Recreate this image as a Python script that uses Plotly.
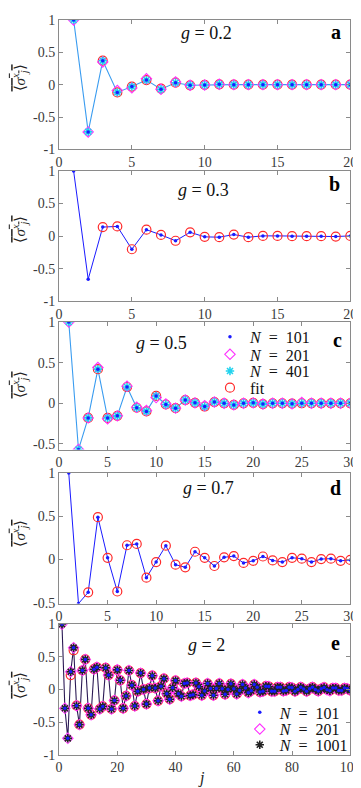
import plotly.graph_objects as go

# ---------------- data ----------------
j_a = list(range(1, 21))
a_n101 = [1.0, -0.73, 0.37, -0.12, -0.03, 0.07, -0.07, 0.03, -0.01, -0.005, 0.005, 0, 0, 0, 0, 0, 0, 0, 0, 0]
a_n201 = [1.0, -0.73, 0.35, -0.09, -0.05, 0.09, -0.07, 0.04, -0.01, -0.005, 0.005, 0, 0, 0, 0, 0, 0, 0, 0, 0]
a_n401 = [1.0, -0.73, 0.37, -0.12, -0.03, 0.07, -0.07, 0.03, -0.01, -0.005, 0.005, 0, 0, 0, 0, 0, 0, 0, 0, 0]
a_fit_j = list(range(3, 21))
a_fit = [0.37, -0.12, -0.03, 0.07, -0.06, 0.03, -0.01, -0.005, 0.005, 0, 0, 0, 0, 0, 0, 0, 0, 0]

j_b = list(range(1, 21))
b_n101 = [1.0, -0.66, 0.14, 0.15, -0.20, 0.10, 0.02, -0.07, 0.06, -0.01, -0.015, 0.025, -0.015,
          0.005, 0.005, 0, 0, 0, -0.005, 0.005]
b_fit_j = list(range(3, 21))
b_fit = [0.14, 0.15, -0.20, 0.10, 0.02, -0.07, 0.06, -0.01, -0.015, 0.025, -0.015,
         0.005, 0.005, 0, 0, 0, -0.005, 0.005]

j_c = list(range(1, 31))
c_n101 = [1.0, -0.57, -0.18, 0.42, -0.18, -0.155, 0.20, -0.055, -0.10, 0.09, -0.015, -0.06, 0.04,
          0.005, -0.04, 0.015, 0.0, -0.02, 0, 0.005, -0.01, 0, 0, -0.005, 0, 0, 0, 0, 0, 0]
c_n201 = [1.0, -0.57, -0.18, 0.44, -0.19, -0.155, 0.21, -0.05, -0.09, 0.07, -0.01, -0.06, 0.04,
          0.005, -0.03, 0.015, 0.0, -0.02, 0, 0.005, -0.01, 0, 0, -0.005, 0.01, 0, 0, 0, 0, 0]
c_n401 = c_n101
c_fit_j = list(range(3, 31))
c_fit = [-0.18, 0.42, -0.18, -0.155, 0.20, -0.055, -0.10, 0.09, -0.015, -0.06, 0.04,
         0.005, -0.04, 0.015, 0.0, -0.02, 0, 0.005, -0.01, 0, 0, -0.005, 0, 0, 0, 0, 0, 0]

j_d = list(range(1, 31))
d_n101 = [1.0, -0.51, -0.38, 0.49, 0.02, -0.37, 0.165, 0.18, -0.21, -0.03, 0.16, -0.06, -0.09, 0.09,
          0.02, -0.075, 0.025, 0.04, -0.04, -0.015, 0.035, -0.01, -0.03, 0.02, 0.01, -0.03, 0.005,
          0.01, -0.015, -0.005]
d_fit_j = list(range(3, 31))
d_fit = [-0.38, 0.49, 0.02, -0.37, 0.165, 0.18, -0.21, -0.03, 0.16, -0.06, -0.09, 0.09,
         0.02, -0.075, 0.025, 0.04, -0.04, -0.015, 0.035, -0.01, -0.03, 0.02, 0.01, -0.03, 0.005,
         0.01, -0.015, -0.005]

j_e = list(range(1, 101))
e_n1001 = [1.0, -0.29, -0.75, 0.27, 0.64, -0.25, -0.54, 0.29, 0.46, -0.29,
           -0.39, 0.31, 0.34, -0.30, -0.26, 0.33, 0.22, -0.30, -0.17, 0.30,
           0.14, -0.29, -0.10, 0.29, 0.065, -0.255, -0.03, 0.25, 0.0, -0.225,
           0.02, 0.21, 0.02, -0.175, 0.05, 0.165, -0.065, -0.15, 0.025, 0.135,
           -0.065, -0.105, 0.09, 0.10, -0.095, -0.08, 0.10, 0.04, -0.09, -0.025,
           0.09, 0.015, -0.09, 0.015, 0.09, 0.01, -0.075, 0.0, 0.085, 0.01,
           -0.07, -0.015, 0.075, 0.02, -0.05, -0.02, 0.075, 0.035, -0.04, -0.03,
           0.05, 0.045, -0.03, -0.03, 0.035, 0.035, -0.025, -0.015, 0.035, 0.025,
           -0.03, 0.0, 0.035, 0.005, -0.03, 0.01, 0.035, 0.0, -0.025, 0.01,
           0.03, -0.005, -0.02, 0.02, 0.02, -0.015, -0.015, 0.02, 0.01, -0.015]
e_n201 = e_n1001
e_n101 = e_n1001
e_fit_j = list(range(4, 101))
e_fit = [0.22, 0.60] + e_n1001[5:]

x_ticks_20 = [0, 5, 10, 15, 20]
x_ticks_30 = [0, 5, 10, 15, 20, 25, 30]
x_ticks_100 = [0, 20, 40, 60, 80, 100]
y_ticks_full = [-1, -0.5, 0, 0.5, 1]
y_ticks_half = [-0.5, 0, 0.5, 1]

g_labels = ["0.2", "0.3", "0.5", "0.7", "2"]
panel_letters = ["a", "b", "c", "d", "e"]

# ---------------- layout helpers ----------------
W, H = 361, 788
FONT = "Liberation Serif"
AX_COLOR = "#8a8a8a"
TICK_FONT = dict(family=FONT, size=14, color="#3a3a3a")


def px_x(x):
    return x / W


def px_y(y):
    return 1 - y / H


def fmt(v):
    return "%g" % v


panels = [
    (5, 137, [0, 20], [-1, 1], x_ticks_20, y_ticks_full),
    (159, 292, [0, 20], [-1, 1], x_ticks_20, y_ticks_full),
    (313, 443, [0, 30], [-0.57, 1], x_ticks_30, y_ticks_half),
    (467, 600, [0, 30], [-0.51, 1], x_ticks_30, y_ticks_half),
    (621, 754, [0, 100], [-1, 1], x_ticks_100, y_ticks_full),
]

fig = go.Figure()
layout = dict(
    width=W, height=H,
    margin=dict(l=0, r=0, t=0, b=0),
    plot_bgcolor="white", paper_bgcolor="white",
    font=dict(family=FONT, size=14, color="#222"),
    showlegend=True,
)

annotations = []
for i, (top, bot, xr, yr, xt, yt) in enumerate(panels):
    n = i + 1
    xa = "xaxis" if n == 1 else f"xaxis{n}"
    ya = "yaxis" if n == 1 else f"yaxis{n}"
    xref = "x" if n == 1 else f"x{n}"
    yref = "y" if n == 1 else f"y{n}"
    layout[xa] = dict(
        domain=[px_x(50), px_x(353)], anchor=yref, range=xr,
        tickvals=xt, ticktext=[fmt(v) for v in xt],
        ticks="inside", ticklen=4, tickcolor=AX_COLOR, tickwidth=1,
        showline=True, linecolor=AX_COLOR, linewidth=1, mirror="ticks",
        showgrid=False, zeroline=False, tickfont=TICK_FONT,
    )
    layout[ya] = dict(
        domain=[px_y(bot), px_y(top)], anchor=xref, range=yr,
        tickvals=yt, ticktext=[fmt(v) for v in yt],
        ticks="inside", ticklen=4, tickcolor=AX_COLOR, tickwidth=1,
        showline=True, linecolor=AX_COLOR, linewidth=1, mirror="ticks",
        showgrid=False, zeroline=False, tickfont=TICK_FONT,
    )

g_pos = [(203, 18), (200, 178), (157, 334), (205, 482), (203, 642)]
l_pos = [(338, 17), (337, 172), (340, 331), (338, 482), (338, 640)]
ylab_y = [64, 218, 377, 528, 683]
for i in range(5):
    gx, gy = g_pos[i]
    annotations.append(dict(
        x=px_x(gx), y=px_y(gy), xref="paper", yref="paper", showarrow=False,
        text=f"<i>g</i> = {g_labels[i]}", font=dict(family=FONT, size=18, color="#111"),
        xanchor="center", yanchor="middle"))
    lx, ly = l_pos[i]
    annotations.append(dict(
        x=px_x(lx), y=px_y(ly), xref="paper", yref="paper", showarrow=False,
        text=f"<b>{panel_letters[i]}</b>", font=dict(family=FONT, size=20, color="#000"),
        xanchor="center", yanchor="middle"))
    annotations.append(dict(
        x=px_x(9), y=px_y(ylab_y[i]), xref="paper", yref="paper", showarrow=False,
        textangle=-90,
        text='<span style="text-decoration:overline">⟨<i>σ</i><sup><i>x</i></sup><sub><i>j</i></sub>⟩</span>',
        font=dict(family=FONT, size=15, color="#222"),
        xanchor="center", yanchor="middle"))
annotations.append(dict(
    x=px_x(198), y=px_y(778), xref="paper", yref="paper", showarrow=False,
    text="<i>j</i>", font=dict(family=FONT, size=16, color="#222"),
    xanchor="center", yanchor="middle"))
layout["annotations"] = annotations

LEG_FONT = dict(family=FONT, size=16, color="#111")
# one legend box per entry so rows can sit as tightly as in the reference
leg_rows = {
    "legend": (207, 328), "legend2": (207, 346), "legend3": (207, 363), "legend4": (207, 380),
    "legend5": (238, 711), "legend6": (238, 728), "legend7": (238, 744),
}
for key, (lx, ly) in leg_rows.items():
    layout[key] = dict(
        x=px_x(lx), y=px_y(ly), xanchor="left", yanchor="middle",
        bgcolor="rgba(0,0,0,0)", font=LEG_FONT, itemwidth=30,
    )

LB = "#3a9cf0"
BLUE = "#1a1aff"
MAG = "#ff33ff"
CYAN = "#22d3ee"
RED = "#ff2a2a"
DARK = "#2b1a55"


def add(x, y, n, **kw):
    xr = "x" if n == 1 else f"x{n}"
    yr = "y" if n == 1 else f"y{n}"
    fig.add_trace(go.Scatter(x=x, y=y, xaxis=xr, yaxis=yr, **kw))


def fit_tr(x, y, n, lg=None):
    add(x, y, n, mode="markers", name="fit", showlegend=lg is not None, legend=lg or "legend",
        marker=dict(symbol="circle-open", size=9, color=RED, line=dict(width=1.2, color=RED)))


def dots(x, y, n, lg=None):
    add(x, y, n, mode="markers", name="<i>N</i>\u2002=\u2002101", showlegend=lg is not None,
        legend=lg or "legend", marker=dict(symbol="circle", size=3.5, color=BLUE))


def diam(x, y, n, lg=None):
    add(x, y, n, mode="markers", name="<i>N</i>\u2002=\u2002201", showlegend=lg is not None,
        legend=lg or "legend",
        marker=dict(symbol="diamond-open", size=8, color=MAG, line=dict(width=1.1, color=MAG)))


def star(x, y, n, name, color, lg=None):
    add(x, y, n, mode="markers", name=name, showlegend=lg is not None, legend=lg or "legend",
        marker=dict(symbol="asterisk-open", size=7, color=color, line=dict(width=1.6, color=color)))


# Panel a
add(j_a, a_n401, 1, mode="lines", line=dict(color=LB, width=1.1), showlegend=False)
fit_tr(a_fit_j, a_fit, 1)
diam(j_a, a_n201, 1)
star(j_a, a_n401, 1, "N401", CYAN)
dots(j_a, a_n101, 1)

# Panel b
add(j_b, b_n101, 2, mode="lines", line=dict(color=BLUE, width=1), showlegend=False)
fit_tr(b_fit_j, b_fit, 2)
dots(j_b, b_n101, 2)

# Panel c
add(j_c, c_n401, 3, mode="lines", line=dict(color=LB, width=1.1), showlegend=False)
fit_tr(c_fit_j, c_fit, 3, lg="legend4")
diam(j_c, c_n201, 3, lg="legend2")
star(j_c, c_n401, 3, "<i>N</i>\u2002=\u2002401", CYAN, lg="legend3")
dots(j_c, c_n101, 3, lg="legend")

# Panel d
add(j_d, d_n101, 4, mode="lines", line=dict(color=BLUE, width=1), showlegend=False)
fit_tr(d_fit_j, d_fit, 4)
dots(j_d, d_n101, 4)

# Panel e
add(j_e, e_n1001, 5, mode="lines", line=dict(color=DARK, width=1.1), showlegend=False)
fit_tr(e_fit_j, e_fit, 5)
diam(j_e, e_n201, 5, lg="legend6")
star(j_e, e_n1001, 5, "<i>N</i>\u2002=\u20021001", "#222222", lg="legend7")
dots(j_e, e_n101, 5, lg="legend5")

fig.update_layout(**layout)
fig.write_html("out.html")
